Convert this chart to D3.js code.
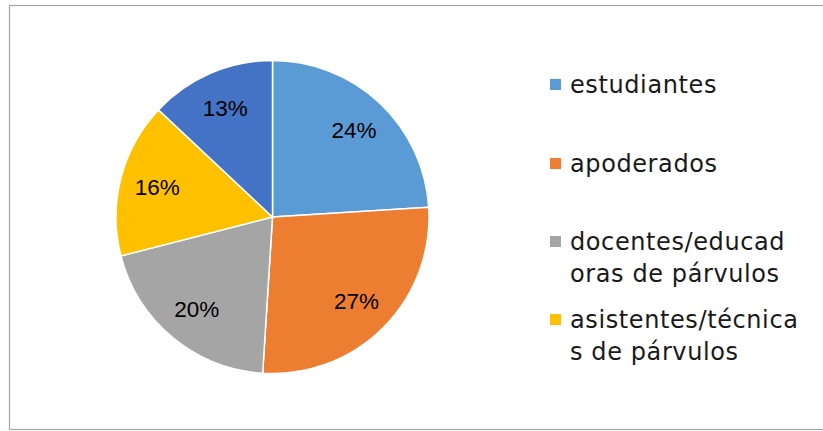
<!DOCTYPE html>
<html lang="es">
<head>
<meta charset="UTF-8">
<script src="https://cdn.jsdelivr.net/npm/d3@7/dist/d3.min.js"></script>
<style>
  body { margin: 0; background: #fff; }
  .pct { font: 22.5px "Liberation Sans", "Open Sans", sans-serif; fill: #000; }
  .legend text { font: 24px "DejaVu Sans", sans-serif; fill: #1a1a1a; letter-spacing: 0.6px; }
</style>
</head>
<body>
<script>
// chart data
var categories = ["estudiantes", "apoderados", "docentes/educadoras de párvulos", "asistentes/técnicas de párvulos", "otros"];
var values = [24, 27, 20, 16, 13];
var colors = ["#5b9bd5", "#ed7d31", "#a5a5a5", "#ffc000", "#4472c4"];
// legend lines as they wrap in the picture (last entry is cut off)
var legendLines = [["estudiantes"], ["apoderados"], ["docentes/educad", "oras de párvulos"], ["asistentes/técnica", "s de párvulos"]];

var width = 823, height = 431;
var svg = d3.select("body").append("svg")
    .attr("width", width)
    .attr("height", height);

// chart frame (right edge runs off the picture)
svg.append("rect")
    .attr("x", 9.5).attr("y", 5.5)
    .attr("width", 830).attr("height", 424)
    .attr("fill", "#fff")
    .attr("stroke", "#a6a6a6")
    .attr("stroke-width", 1.2);

var cx = 272.5, cy = 217, r = 156.5;

var pie = d3.pie().sort(null).value(function(d) { return d; });
var arc = d3.arc().innerRadius(0).outerRadius(r);
var labelArc = d3.arc().innerRadius(r * 0.76).outerRadius(r * 0.76);

var g = svg.append("g").attr("transform", "translate(" + cx + "," + cy + ")");
var slices = g.selectAll("g.slice").data(pie(values)).enter().append("g").attr("class", "slice");

slices.append("path")
    .attr("d", arc)
    .attr("fill", function(d, i) { return colors[i]; })
    .attr("stroke", "#fff")
    .attr("stroke-width", 1.5);

slices.append("text")
    .attr("class", "pct")
    .attr("transform", function(d) { return "translate(" + labelArc.centroid(d) + ")"; })
    .attr("text-anchor", "middle")
    .attr("dy", "0.35em")
    .text(function(d) { return d.data + "%"; });

// legend
var legendY = [93, 172, 250, 328];
var lg = svg.append("g").attr("class", "legend");
legendLines.forEach(function(lines, i) {
    lg.append("rect")
        .attr("x", 550).attr("y", legendY[i] - 14)
        .attr("width", 11).attr("height", 11)
        .attr("fill", colors[i]);
    lines.forEach(function(t, j) {
        lg.append("text")
            .attr("x", 570).attr("y", legendY[i] + j * 32)
            .text(t);
    });
});
</script>
</body>
</html>
